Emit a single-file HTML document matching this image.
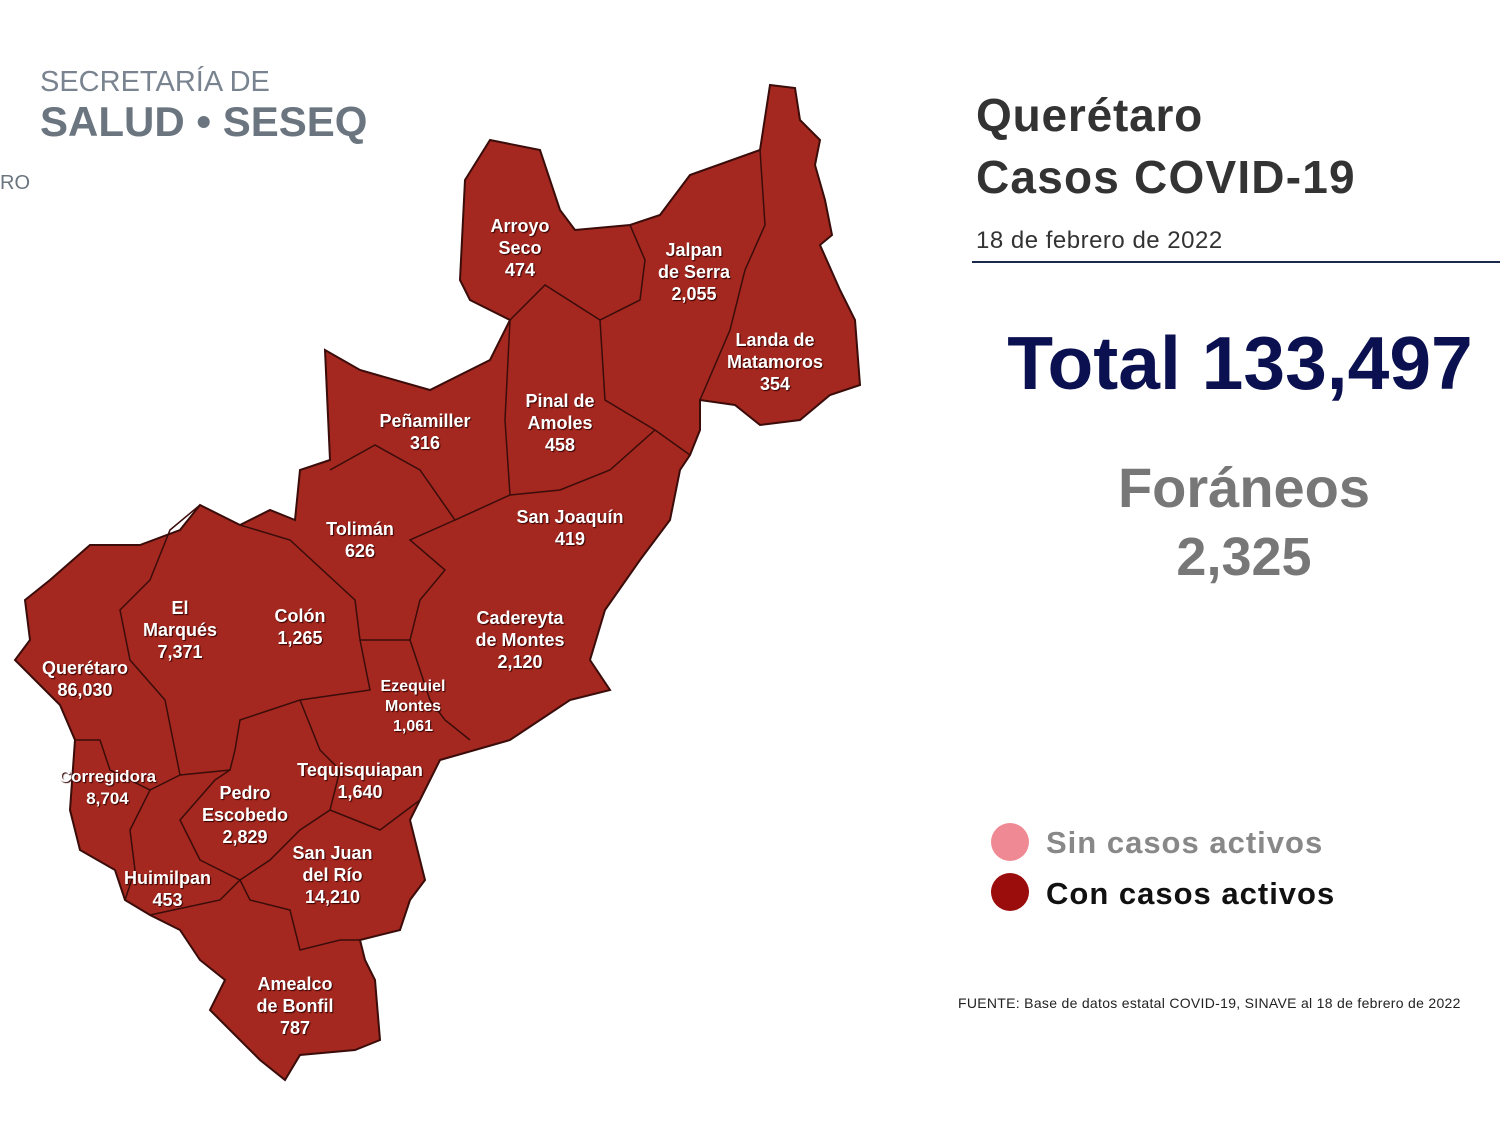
<!DOCTYPE html>
<html><head><meta charset="utf-8">
<style>
body{margin:0;width:1500px;height:1125px;background:#fff;overflow:hidden;font-family:"Liberation Sans",sans-serif;}
.t{position:absolute;white-space:nowrap}
</style></head><body>
<svg width="1500" height="1125" style="position:absolute;left:0;top:0">
<polygon fill="#A4281F" stroke="#3a0c0a" stroke-width="2" points="770,85 795,88 800,120 820,140 815,165 825,200 832,235 820,245 840,290 855,320 860,385 830,395 800,420 760,425 735,405 700,400 700,430 690,455 680,470 670,520 640,560 605,610 590,660 610,690 570,700 540,720 510,740 475,750 440,760 420,800 410,820 425,880 410,900 400,930 360,940 365,960 375,980 380,1040 355,1050 300,1055 285,1080 260,1060 235,1035 210,1010 225,980 200,960 180,930 150,915 125,900 115,870 80,850 70,810 75,740 60,705 15,660 30,640 25,600 50,580 90,545 140,545 180,530 200,505 240,525 270,510 295,520 300,470 330,460 325,350 360,370 430,390 490,360 510,320 470,300 460,280 465,180 490,140 540,150 560,210 575,230 630,225 660,215 690,175 760,150"/>
<g fill="none" stroke="#3a0c0a" stroke-width="1.5">
<path d="M630,225 L645,260 L640,300 L600,320 L545,285 L510,320"/>
<path d="M760,150 L765,225 L745,270 L730,330 L700,400"/>
<path d="M600,320 L605,400 L655,430 L690,455"/>
<path d="M510,320 L505,420 L510,495 L455,520 L420,470 L375,445 L330,470"/>
<path d="M510,495 L560,490 L610,470 L655,430"/>
<path d="M455,520 L410,540 L445,570 L420,600 L410,640 L360,640 L355,600 L290,540 L240,525"/>
<path d="M410,640 L430,700 L445,720 L470,740"/>
<path d="M360,640 L370,690 L300,700 L240,720 L235,750 L230,770 L180,775"/>
<path d="M200,505 L170,530 L150,580 L120,610 L130,660 L165,700 L180,775 L150,790 L130,830 L135,870 L125,900"/>
<path d="M75,740 L100,740 L110,770 L150,790"/>
<path d="M300,700 L320,750 L340,770 L330,810 L300,830 L270,860 L240,880 L200,860 L180,820 L215,780 L230,770"/>
<path d="M240,880 L250,900 L290,910 L300,950 L340,940 L360,940"/>
<path d="M330,810 L380,830 L420,800"/>
<path d="M150,915 L220,900 L240,880"/>
</g>
</svg>
<div style="position:absolute;left:0;top:0;color:#fff;font-weight:bold;font-size:18px;line-height:22px;text-align:center;text-shadow:1px 1px 1px #300">
<div class="t" style="left:470px;top:215px;width:100px">Arroyo<br>Seco<br>474</div>
<div class="t" style="left:644px;top:239px;width:100px">Jalpan<br>de Serra<br>2,055</div>
<div class="t" style="left:715px;top:329px;width:120px">Landa de<br>Matamoros<br>354</div>
<div class="t" style="left:370px;top:410px;width:110px">Peñamiller<br>316</div>
<div class="t" style="left:510px;top:390px;width:100px">Pinal de<br>Amoles<br>458</div>
<div class="t" style="left:510px;top:506px;width:120px">San Joaquín<br>419</div>
<div class="t" style="left:310px;top:518px;width:100px">Tolimán<br>626</div>
<div class="t" style="left:460px;top:607px;width:120px">Cadereyta<br>de Montes<br>2,120</div>
<div class="t" style="left:130px;top:597px;width:100px">El<br>Marqués<br>7,371</div>
<div class="t" style="left:250px;top:605px;width:100px">Colón<br>1,265</div>
<div class="t" style="left:30px;top:657px;width:110px">Querétaro<br>86,030</div>
<div class="t" style="left:363px;top:677px;width:100px;font-size:16px;line-height:20px">Ezequiel<br>Montes<br>1,061</div>
<div class="t" style="left:50px;top:766px;width:115px;font-size:17px">Corregidora<br>8,704</div>
<div class="t" style="left:290px;top:759px;width:140px">Tequisquiapan<br>1,640</div>
<div class="t" style="left:195px;top:782px;width:100px">Pedro<br>Escobedo<br>2,829</div>
<div class="t" style="left:280px;top:842px;width:105px">San Juan<br>del Río<br>14,210</div>
<div class="t" style="left:115px;top:867px;width:105px">Huimilpan<br>453</div>
<div class="t" style="left:240px;top:973px;width:110px">Amealco<br>de Bonfil<br>787</div>
</div>
<div class="t" style="left:40px;top:66px;font-size:29px;color:#7a8490">SECRETARÍA DE</div>
<div class="t" style="left:40px;top:98px;font-size:42px;font-weight:bold;color:#6b7580">SALUD • SESEQ</div>
<div class="t" style="left:0px;top:172px;font-size:20px;color:#6b7580">RO</div>
<div class="t" style="left:976px;top:88px;font-size:46px;font-weight:bold;color:#333;letter-spacing:0.8px">Querétaro</div>
<div class="t" style="left:976px;top:150px;font-size:46px;font-weight:bold;color:#333;letter-spacing:1.2px">Casos COVID-19</div>
<div class="t" style="left:976px;top:227px;font-size:24px;color:#333;letter-spacing:0.5px">18 de febrero de 2022</div>
<div style="position:absolute;left:972px;top:261px;width:528px;height:2px;background:#1a2a4a"></div>
<div class="t" style="left:990px;top:320px;width:500px;text-align:center;font-size:75px;font-weight:bold;color:#0b1150">Total 133,497</div>
<div class="t" style="left:1000px;top:455px;width:488px;text-align:center;font-size:56px;font-weight:bold;color:#777">Foráneos</div>
<div class="t" style="left:1000px;top:526px;width:488px;text-align:center;font-size:54px;font-weight:bold;color:#777">2,325</div>
<div style="position:absolute;left:991px;top:823px;width:38px;height:38px;border-radius:50%;background:#ef8a95"></div>
<div style="position:absolute;left:991px;top:873px;width:38px;height:38px;border-radius:50%;background:#9b0d0d"></div>
<div class="t" style="left:1046px;top:825px;font-size:31px;font-weight:bold;color:#888;letter-spacing:1px">Sin casos activos</div>
<div class="t" style="left:1046px;top:876px;font-size:31px;font-weight:bold;color:#111;letter-spacing:1px">Con casos activos</div>
<div class="t" style="left:958px;top:995px;font-size:14px;color:#222;letter-spacing:0.3px">FUENTE: Base de datos estatal  COVID-19,  SINAVE  al 18 de febrero de 2022</div>
</body></html>
